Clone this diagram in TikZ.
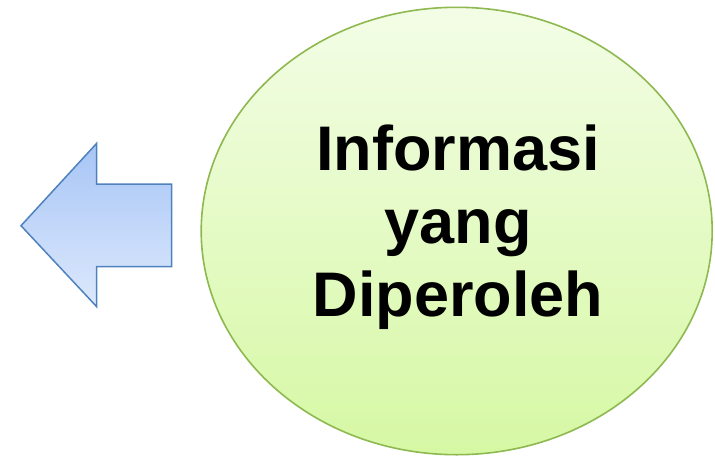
\documentclass[tikz,border=0pt]{standalone}
\usepackage{fontspec}
\setmainfont{Liberation Sans}
\definecolor{arrowline}{HTML}{4F81BD}
\definecolor{arrowtop}{HTML}{A7C5F6}
\definecolor{arrowbot}{HTML}{DDE9FC}
\definecolor{ellline}{HTML}{8EB850}
\definecolor{elltop}{HTML}{F3FDE6}
\definecolor{ellbot}{HTML}{D6F8A4}
\tikzset{
  arrowshape/.style={draw=arrowline, line width=1.5pt, line join=miter, top color=arrowtop, bottom color=arrowbot},
  ellshape/.style={draw=ellline, line width=1.6pt, top color=elltop, bottom color=ellbot},
  labeltext/.style={font=\bfseries\fontsize{63}{73}\selectfont, align=center, text=black, inner sep=0pt}
}
\begin{document}
\begin{tikzpicture}[x=1pt,y=-1pt]
\useasboundingbox (0,0) rectangle (715,458);
\path[arrowshape] (21,225.7) -- (96.7,143.3) -- (96.7,184) -- (171.7,184) -- (171.7,266.7) -- (96.7,266.7) -- (96.7,306.7) -- cycle;
\path[ellshape] (456.7,231) ellipse [x radius=255.5, y radius=223.7];
\node[labeltext] (lbl) at (458,227) {Informasi\\yang\\Diperoleh};
\end{tikzpicture}
\end{document}
